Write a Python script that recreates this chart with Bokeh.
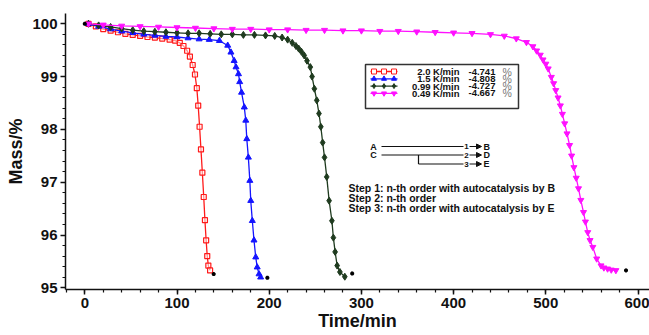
from bokeh.plotting import figure
from bokeh.models import Range1d, SingleIntervalTicker, Arrow, NormalHead
from bokeh.core.properties import value
from bokeh.embed import file_html
from bokeh.resources import INLINE

# ---------------- data ----------------
red_t = [4, 12, 20, 28, 36, 44, 52, 60, 68, 76, 84, 92, 98, 103, 107, 111, 114, 117, 119.5, 121.5,
         123, 124.5, 126, 127.5, 129, 130.3, 131.6, 132.8, 134, 135.9]
red_m = [100.0, 99.95, 99.9, 99.87, 99.84, 99.81, 99.79, 99.77, 99.75, 99.74, 99.72, 99.7, 99.68, 99.64,
         99.58, 99.49, 99.38, 99.22, 99.04, 98.78, 98.45, 98.05, 97.62, 97.18, 96.72, 96.28, 95.9, 95.6,
         95.42, 95.33]

blue_t = [4, 15, 28, 40, 52, 64, 76, 88, 100, 112, 124, 135, 146, 155, 158.5, 162, 164, 166.7, 168, 170,
          173, 174.6, 175.7, 177.4, 179, 180, 181.7, 183.5, 185.4, 187, 189, 190.7]
blue_m = [100.0, 99.95, 99.9, 99.86, 99.83, 99.8, 99.78, 99.76, 99.75, 99.73, 99.71, 99.7, 99.68, 99.59,
          99.46, 99.3, 99.18, 99.05, 98.9, 98.7, 98.42, 98.17, 97.82, 97.47, 97.03, 96.65, 96.27, 95.9,
          95.58, 95.39, 95.26, 95.2]

green_t = [4, 15, 28, 40, 52, 64, 76, 88, 100, 112, 124, 136, 148, 160, 172, 184, 196, 206, 214, 220,
           225, 229, 232, 235, 238, 241, 244.6, 246.5, 249, 251.6, 254, 256, 258, 260, 262.4, 265, 268,
           269.6, 271.5, 273.7, 276.7, 282]
green_m = [100.0, 99.97, 99.94, 99.91, 99.88, 99.86, 99.85, 99.84, 99.83, 99.82, 99.82, 99.81, 99.8, 99.8,
           99.79, 99.79, 99.78, 99.77, 99.74, 99.7, 99.64, 99.58, 99.53, 99.47, 99.4, 99.3, 99.18, 99.0,
           98.77, 98.55, 98.3, 98.05, 97.75, 97.47, 97.1, 96.65, 96.27, 95.95, 95.68, 95.42, 95.3, 95.21]

pink_t = [4, 20, 40, 60, 80, 100, 120, 140, 160, 180, 200, 220, 240, 260, 280, 300, 320, 340, 360, 380,
          400, 420, 440, 455, 468, 479, 486, 490, 494, 497, 500, 502.6, 506, 508.5, 510.8, 513.3, 515.8,
          518, 520.5, 523, 525.8, 528, 530.5, 533, 535.5, 538, 540.9, 543, 545.5, 548, 551, 555.2, 559.9,
          563, 567, 571, 576]
pink_m = [100.0, 99.98, 99.96, 99.95, 99.94, 99.93, 99.92, 99.91, 99.9, 99.9, 99.89, 99.89, 99.88, 99.88,
          99.87, 99.87, 99.86, 99.86, 99.85, 99.84, 99.83, 99.82, 99.8, 99.77, 99.72, 99.65, 99.57, 99.49,
          99.41, 99.32, 99.24, 99.15, 98.99, 98.87, 98.74, 98.6, 98.45, 98.29, 98.11, 97.92, 97.7, 97.5,
          97.28, 97.08, 96.88, 96.66, 96.43, 96.25, 96.05, 95.9, 95.77, 95.55, 95.42, 95.38, 95.36, 95.34,
          95.33]

end_t = [0, 139.8, 198, 290, 587]
end_m = [100.0, 95.26, 95.19, 95.27, 95.33]

rates = ["2.0 K/min", "1.5 K/min", "0.99 K/min", "0.49 K/min"]
losses = ["-4.741", "-4.808", "-4.727", "-4.667"]
steps = ["Step 1: n-th order with autocatalysis by B",
         "Step 2: n-th order",
         "Step 3: n-th order with autocatalysis by E"]

x_title = "Time/min"
y_title = "Mass/%"
x_ticks_interval = 100
y_ticks_interval = 1

# ---------------- layout ----------------
W, H = 649, 335
FL, FR, FT, FB = 65, 649, 13, 289   # frame edges in page pixels
X0_PX, KX = 84.3, 0.922             # page px of t=0, px per minute
xs = (FL - X0_PX) / KX
xe = xs + (FR - FL) / KX
Y100_PX, KY = 23.3, 52.8
ye = 100 + (Y100_PX - FT) / KY
ys = 100 - (FB - Y100_PX) / KY

FONT = "Liberation Sans"
INK = "#111111"

p = figure(width=W, height=H, x_range=Range1d(xs, xe), y_range=Range1d(ys, ye),
           output_backend="svg", toolbar_location=None,
           min_border_left=FL, min_border_right=W - FR,
           min_border_top=FT, min_border_bottom=H - FB)
p.outline_line_color = None
p.xgrid.visible = False
p.ygrid.visible = False
p.background_fill_color = "white"
p.border_fill_color = "white"

p.xaxis.ticker = SingleIntervalTicker(interval=x_ticks_interval, num_minor_ticks=5)
p.yaxis.ticker = SingleIntervalTicker(interval=y_ticks_interval, num_minor_ticks=5)
for ax in (p.xaxis[0], p.yaxis[0]):
    ax.axis_line_width = 1.5
    ax.axis_line_color = INK
    ax.major_tick_line_width = 1.5
    ax.minor_tick_line_width = 1.2
    ax.major_tick_line_color = INK
    ax.minor_tick_line_color = INK
    ax.major_tick_out = 5
    ax.major_tick_in = 0
    ax.minor_tick_out = 3
    ax.minor_tick_in = 0
    ax.major_label_text_font = FONT
    ax.major_label_text_font_style = "bold"
    ax.major_label_text_font_size = "15px"
    ax.major_label_text_color = INK
    ax.axis_label_text_font = FONT
    ax.axis_label_text_font_style = "bold"
    ax.axis_label_text_font_size = "18px"
    ax.axis_label_text_color = INK
p.xaxis[0].axis_label = x_title
p.yaxis[0].axis_label = y_title
p.xaxis[0].major_label_standoff = 3
p.xaxis[0].axis_label_standoff = 0
p.yaxis[0].major_label_standoff = 3
p.yaxis[0].axis_label_standoff = 3

# pixel-space ranges for annotations (page pixel coordinates)
p.extra_x_ranges = {"px": Range1d(FL, FR)}
p.extra_y_ranges = {"px": Range1d(FB, FT)}
PX = dict(x_range_name="px", y_range_name="px")

RED, BLUE, GREEN, PINK = "#ff1a1a", "#1414ff", "#1f3b1f", "#ff10ff"

# ---------------- series ----------------
p.line(red_t, red_m, line_color=RED, line_width=1.3)
p.scatter(red_t, red_m, marker="square", size=5, line_color=RED, fill_color="white", fill_alpha=0.5, line_width=1.2)
p.line(blue_t, blue_m, line_color=BLUE, line_width=1.3)
p.scatter(blue_t, blue_m, marker="triangle", size=6, line_color=BLUE, fill_color=BLUE)
p.line(green_t, green_m, line_color=GREEN, line_width=1.3)
p.scatter(green_t, green_m, marker="diamond", size=7, line_color=GREEN, fill_color=GREEN)
p.line(pink_t, pink_m, line_color=PINK, line_width=1.3)
p.scatter(pink_t, pink_m, marker="inverted_triangle", size=6, line_color=PINK, fill_color=PINK)
p.scatter(end_t, end_m, marker="asterisk", size=4, line_color="black", line_width=1.5)

# ---------------- legend box ----------------
p.quad(left=[365], right=[518], top=[64], bottom=[108], fill_color="white",
       line_color="#333333", line_width=1.5, **PX)
colors = [RED, BLUE, GREEN, PINK]
markers = ["square", "triangle", "diamond", "inverted_triangle"]
row_y = [71 + 7.3 * i for i in range(4)]
for i in range(4):
    yy = row_y[i]
    p.line([370, 397], [yy, yy], line_color=colors[i], line_width=1.3, **PX)
    fill = "white" if i == 0 else colors[i]
    p.scatter([373.5, 383.5, 393.5], [yy] * 3, marker=markers[i], size=5,
              line_color=colors[i], fill_color=fill, **PX)
p.text(x=[459] * 4, y=row_y, text=rates,
       text_font=value(FONT), text_font_style="bold", text_font_size="9.5px",
       text_align="right", text_baseline="middle", text_color=INK, **PX)
p.text(x=[468] * 4, y=row_y, text=losses,
       text_font=value(FONT), text_font_style="bold", text_font_size="9.5px",
       text_align="left", text_baseline="middle", text_color=INK, **PX)
p.text(x=[502] * 4, y=row_y, text=["%"] * 4,
       text_font=value(FONT), text_font_size="10.5px",
       text_align="left", text_baseline="middle", text_color="#777777", **PX)

# ---------------- reaction scheme ----------------
p.text(x=[373, 373], y=[146, 154.5], text=["A", "C"], text_font=value(FONT),
       text_font_style="bold", text_font_size="9px", text_align="center",
       text_baseline="middle", text_color=INK, **PX)
p.segment(x0=[381, 381, 418, 418], y0=[146, 154.5, 154.5, 163.5],
          x1=[463, 463, 418, 463], y1=[146, 154.5, 163.5, 163.5],
          line_color=INK, line_width=1.2, **PX)
p.text(x=[466] * 3, y=[146, 154.5, 163.5], text=["1", "2", "3"], text_font=value(FONT),
       text_font_style="bold", text_font_size="8px", text_align="center",
       text_baseline="middle", text_color=INK, **PX)
for yy in (146, 154.5, 163.5):
    p.add_layout(Arrow(end=NormalHead(size=5, fill_color=INK, line_color=INK),
                       x_start=469, y_start=yy, x_end=481, y_end=yy,
                       line_color=INK, line_width=1.2, **PX))
p.text(x=[483] * 3, y=[146, 154.5, 163.5], text=["B", "D", "E"], text_font=value(FONT),
       text_font_style="bold", text_font_size="9px", text_align="left",
       text_baseline="middle", text_color=INK, **PX)
p.text(x=[348] * 3, y=[187, 197, 207], text=steps, text_font=value(FONT),
       text_font_style="bold", text_font_size="10.5px", text_align="left",
       text_baseline="middle", text_color=INK, **PX)

open("out.html", "w").write(file_html(p, INLINE))
